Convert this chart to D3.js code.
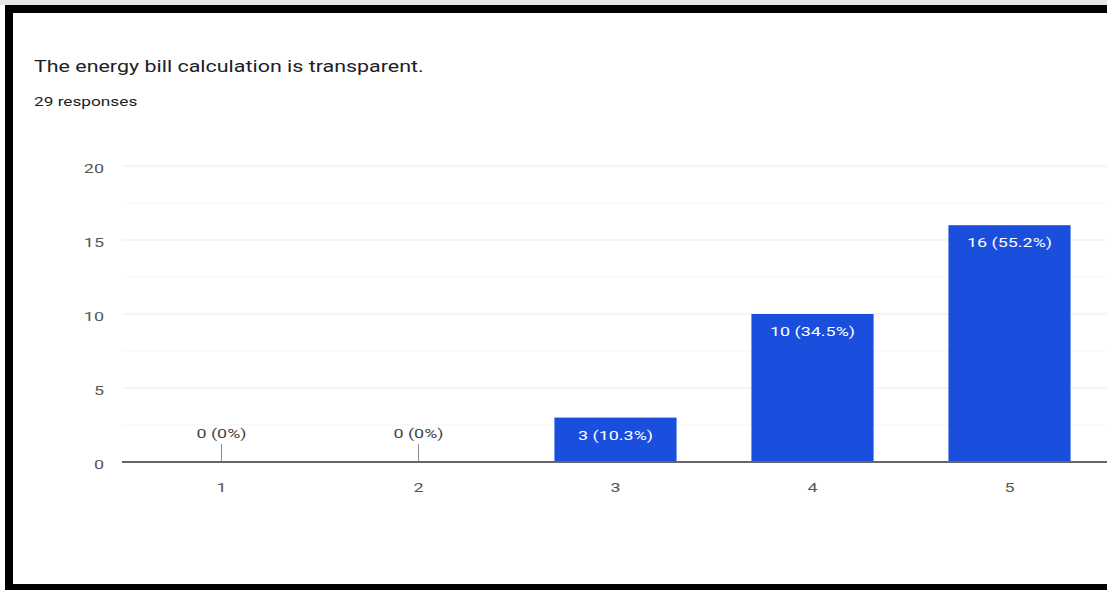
<!DOCTYPE html>
<html>
<head>
<meta charset="utf-8">
<script src="https://cdn.jsdelivr.net/npm/d3@7/dist/d3.min.js"></script>
<style>
  body { margin: 0; background: #fff; }
  svg { display: block; font-family: Roboto, Arial, sans-serif; }
</style>
</head>
<body>
<svg width="1107" height="590"></svg>
<script>
// chart values
const categories = ['1', '2', '3', '4', '5'];
const counts = [0, 0, 3, 10, 16];
const percents = ['0%', '0%', '10.3%', '34.5%', '55.2%'];
const yTicks = [0, 5, 10, 15, 20];
const yMinor = [2.5, 7.5, 12.5, 17.5];

const svg = d3.select('svg');
// the screenshot is stretched sideways, so the text is too
const sx = 1.38;
const place = (x, y, s = sx) => `translate(${x},${y}) scale(${s},1)`;

// frame round the screenshot
svg.append('rect').attr('x', 0).attr('y', 0).attr('width', 1107).attr('height', 5).attr('fill', '#e6e6e6');
svg.append('rect').attr('x', 5).attr('y', 5).attr('width', 1102).attr('height', 8).attr('fill', '#000');
svg.append('rect').attr('x', 5).attr('y', 5).attr('width', 8).attr('height', 585).attr('fill', '#000');
svg.append('rect').attr('x', 5).attr('y', 584).attr('width', 1102).attr('height', 6).attr('fill', '#000');

svg.append('text')
  .attr('transform', place(34, 72, 1.3))
  .attr('font-size', 16.5)
  .attr('fill', '#202124')
  .text('The energy bill calculation is transparent.');

svg.append('text')
  .attr('transform', place(34, 106))
  .attr('font-size', 12.5)
  .attr('fill', '#202124')
  .text('29 responses');

const x = d3.scaleBand()
  .domain(categories)
  .range([123, 1108])
  .paddingInner(0.38)
  .paddingOuter(0.19);

const y = d3.scaleLinear().domain([0, 20]).range([462, 166]);

// minor grid
svg.append('g').selectAll('line').data(yMinor).join('line')
  .attr('x1', 123).attr('x2', 1107)
  .attr('y1', d => y(d)).attr('y2', d => y(d))
  .attr('stroke', '#f5f5f5');

// major grid
svg.append('g').selectAll('line').data(yTicks.filter(d => d > 0)).join('line')
  .attr('x1', 123).attr('x2', 1107)
  .attr('y1', d => y(d)).attr('y2', d => y(d))
  .attr('stroke', '#ebebeb');

// y labels
svg.append('g').selectAll('text').data(yTicks).join('text')
  .attr('transform', d => place(104, y(d) + 7))
  .attr('text-anchor', 'end')
  .attr('font-size', 13)
  .attr('fill', '#555')
  .text(d => d);

const data = categories.map((c, i) => ({ c, n: counts[i], p: percents[i] }));
const mid = d => x(d.c) + x.bandwidth() / 2;

svg.append('g').selectAll('rect').data(data.filter(d => d.n > 0)).join('rect')
  .attr('x', d => x(d.c))
  .attr('y', d => y(d.n))
  .attr('width', x.bandwidth())
  .attr('height', d => y(0) - y(d.n))
  .attr('fill', '#1a4edc');

// zero stubs
svg.append('g').selectAll('line').data(data.filter(d => d.n === 0)).join('line')
  .attr('x1', mid).attr('x2', mid)
  .attr('y1', 444).attr('y2', y(0))
  .attr('stroke', '#888');

// bar labels
svg.append('g').selectAll('text').data(data).join('text')
  .attr('transform', d => place(mid(d), d.n > 0 ? y(d.n) + 22 : 438))
  .attr('text-anchor', 'middle')
  .attr('font-size', 13)
  .attr('fill', d => d.n > 0 ? '#fff' : '#444')
  .text(d => `${d.n} (${d.p})`);

// baseline
svg.append('line')
  .attr('x1', 122).attr('x2', 1107)
  .attr('y1', y(0)).attr('y2', y(0))
  .attr('stroke', '#666').attr('stroke-width', 2);

// x labels
svg.append('g').selectAll('text').data(categories).join('text')
  .attr('transform', d => place(x(d) + x.bandwidth() / 2, 492))
  .attr('text-anchor', 'middle')
  .attr('font-size', 13)
  .attr('fill', '#555')
  .text(d => d);
</script>
</body>
</html>
